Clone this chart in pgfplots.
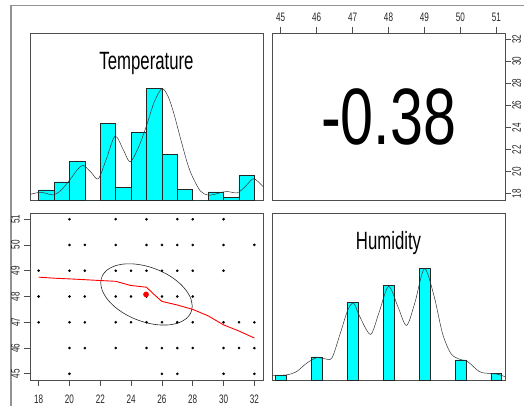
\documentclass[border=0pt]{standalone}
\usepackage{fontspec}
\setmainfont{Liberation Sans}
\newfontfamily\tickfont{Liberation Sans}[FakeStretch=0.66]
\newfontfamily\titlefont{Liberation Sans}[FakeStretch=0.67]
\newfontfamily\bigfont{Liberation Sans}[FakeStretch=0.74]
\usepackage{pgfplots}
\pgfplotsset{compat=1.18}
\definecolor{frame}{HTML}{4D4D4D}
\definecolor{hcyan}{RGB}{0,255,255}
\pgfplotsset{
  panel/.style={scale only axis, width=233pt, height=167pt, anchor=south west,
    axis line style={draw=frame, line width=0.9pt},
    tick style={draw=frame, line width=0.7pt},
    tick align=outside, major tick length=6pt,
    /pgf/number format/assume math mode=true,
    ticklabel style={font=\tickfont\fontsize{12.3}{13}\selectfont, text=black!85, inner sep=0pt},
  },
}
\begin{document}
\begin{tikzpicture}[x=1pt,y=1pt]
\path[use as bounding box] (0,0) rectangle (524,405);
\draw[gray!85, line width=1.3pt] (11,-5) -- (11,399.7) -- (530,399.7);
% ---------- Temperature histogram (top left)
\begin{axis}[panel, at={(30pt,205pt)}, xmin=17.44, xmax=32.56, ymin=0, ymax=1.5, ticks=none]
\addplot[ybar interval, fill=hcyan, draw=black!85, line width=0.6pt] coordinates {
(18,0.09) (19,0.162) (20,0.344) (21,0) (22,0.689) (23,0.11) (24,0.605) (25,1)
(26,0.407) (27,0.093) (28,0) (29,0.072) (30,0.021) (31,0.222) (32,0)};
\addplot[black!80, line width=0.5pt, smooth] coordinates {
(17.44,0.05) (18.07,0.069) (18.5,0.06) (18.93,0.045) (19.4,0.08) (20.02,0.18) (20.5,0.27) (20.9,0.31)
(21.4,0.25) (21.87,0.19) (22.4,0.37) (22.96,0.573) (23.5,0.45) (23.94,0.343) (24.5,0.48)
(25.03,0.68) (25.5,0.88) (26.0,1.0) (26.4,0.93) (26.77,0.78) (27.25,0.53) (27.7,0.31)
(28.05,0.19) (28.5,0.08) (28.95,0.045) (29.4,0.05) (29.9,0.07) (30.3,0.075) (30.9,0.065)
(31.4,0.12) (31.89,0.19) (32.2,0.17) (32.56,0.12)};
\node[font=\titlefont\fontsize{25}{25}\selectfont, anchor=base] at (axis cs:25,1.168) {Temperature};
\end{axis}
% ---------- correlation (top right)
\begin{axis}[panel, at={(272pt,205pt)}, xmin=44.76, xmax=51.24, ymin=17.44, ymax=32.56,
  xtick={45,46,47,48,49,50,51}, ytick={18,20,22,24,26,28,30,32},
  xtick pos=right, xticklabel pos=right, ytick pos=right, yticklabel pos=right,
  xticklabel shift=5pt, yticklabel shift=1pt,
  xticklabel style={anchor=south},
  yticklabel style={rotate=90, anchor=north}]
\node[font=\bigfont\fontsize{80}{80}\selectfont, anchor=center] at (rel axis cs:0.5,0.5) {-0.38};
\end{axis}
% ---------- scatter (bottom left)
\begin{axis}[panel, at={(30pt,25pt)}, xmin=17.44, xmax=32.56, ymin=44.76, ymax=51.24,
  xtick={18,20,22,24,26,28,30,32}, ytick={45,46,47,48,49,50,51},
  xtick pos=left, xticklabel pos=left, ytick pos=left, yticklabel pos=left,
  xticklabel shift=9pt, yticklabel shift=4pt,
  xticklabel style={anchor=north},
  yticklabel style={rotate=90, anchor=south}]
\addplot[only marks, mark=*, mark size=1.1pt, black] coordinates {
(20,51) (23,51) (25,51) (27,51) (28,51) (30,51)
(20,50) (21,50) (23,50) (25,50) (26,50) (27,50) (28,50) (30,50) (32,50)
(18,49) (20,49) (21,49) (23,49) (24,49) (25,49) (26,49) (27,49) (28,49) (30,49)
(18,48) (20,48) (21,48) (23,48) (24,48) (25,48) (26,48) (27,48) (28,48)
(18,47) (20,47) (21,47) (23,47) (24,47) (25,47) (26,47) (27,47) (28,47) (30,47) (31,47) (32,47)
(20,46) (21,46) (23,46) (25,46) (26,46) (27,46) (28,46) (30,46) (31,46) (32,46)
(20,45) (26,45) (27,45) (30,45) (32,45)};
\addplot[black!85, line width=0.6pt, smooth] coordinates {
(27.970,47.628) (27.869,47.359) (27.572,47.138) (27.100,46.982) (26.485,46.901) (25.769,46.900)
(25.000,46.979) (24.231,47.134) (23.515,47.352) (22.900,47.621) (22.428,47.921) (22.131,48.231)
(22.030,48.532) (22.131,48.801) (22.428,49.022) (22.900,49.178) (23.515,49.259) (24.231,49.260)
(25.000,49.181) (25.769,49.026) (26.485,48.808) (27.100,48.539) (27.572,48.239) (27.869,47.929)
(27.970,47.628)};
\addplot[red, line width=0.9pt] coordinates {
(18,48.75) (19.04,48.71) (20.46,48.67) (21.98,48.62) (23,48.59) (23.96,48.43) (25,48.36)
(25.45,48.1) (26,47.81) (27,47.67) (28,47.5) (29,47.25) (30,46.9) (31,46.66) (32,46.39)};
\addplot[only marks, mark=*, mark size=2.6pt, red] coordinates {(24.97,48.08)};
\end{axis}
% ---------- Humidity histogram (bottom right)
\begin{axis}[panel, at={(272pt,25pt)}, xmin=44.76, xmax=51.24, ymin=0, ymax=1.5, ticks=none]
\addplot[ybar, bar width=0.30, bar shift=0pt, fill=hcyan, draw=black!85, line width=0.6pt] coordinates {
(45,0.045) (46,0.207) (47,0.70) (48,0.85) (49,1.0) (50,0.18) (51,0.06)};
\addplot[black!80, line width=0.5pt, smooth] coordinates {
(44.76,0.04) (45.15,0.045) (45.44,0.075) (45.72,0.15) (46,0.2) (46.24,0.19) (46.43,0.2)
(46.66,0.42) (46.87,0.63) (47.03,0.69) (47.2,0.57) (47.5,0.41) (47.73,0.6) (48,0.84)
(48.26,0.66) (48.5,0.49) (48.73,0.69) (49,1.0) (49.27,0.75) (49.5,0.42) (49.73,0.24)
(49.95,0.19) (50.2,0.165) (50.43,0.1) (50.6,0.066) (51,0.054) (51.24,0.03)};
\node[font=\titlefont\fontsize{25}{25}\selectfont, anchor=base] at (axis cs:48,1.176) {Humidity};
\end{axis}
\end{tikzpicture}
\end{document}
